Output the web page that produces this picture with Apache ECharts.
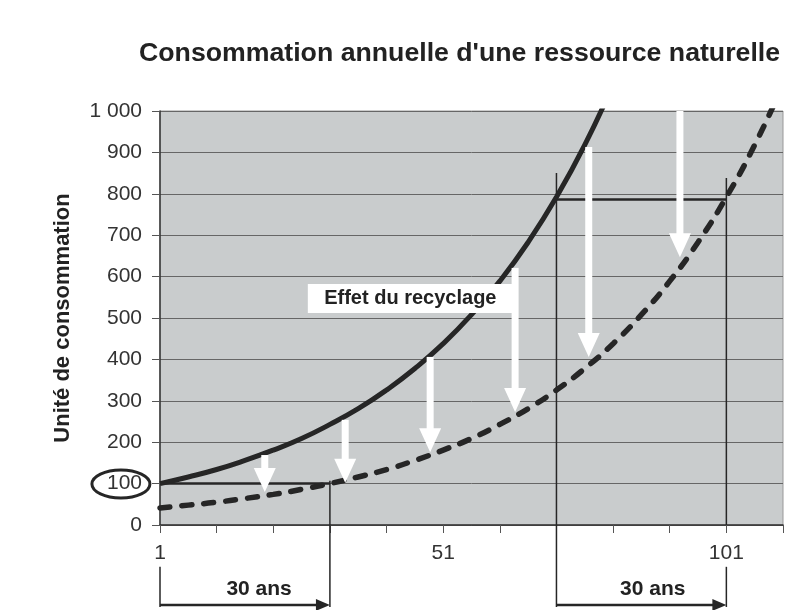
<!DOCTYPE html>
<html>
<head>
<meta charset="utf-8">
<script src="https://cdn.jsdelivr.net/npm/echarts@6/dist/echarts.min.js"></script>
<style>
html, body { margin: 0; padding: 0; background: #fff; }
#chart { width: 786px; height: 610px; }
</style>
</head>
<body>
<div id="chart"></div>
<script>
// years on the x axis, one point every 5 years
const years = [1, 6, 11, 16, 21, 26, 31, 36, 41, 46, 51, 56, 61, 66, 71, 76, 81, 86, 91, 96, 101, 106, 111];
// consumption without recycling (solid curve)
const consumption = [100, 116, 134, 156, 181, 209, 243, 281, 326, 378, 438, 508, 589, 683, 792, 918, 1064];
// consumption with recycling (dashed curve)
const recycled = [41, 48, 55, 64, 74, 86, 100, 116, 134, 156, 181, 209, 243, 281, 326, 378, 438, 508, 589, 683, 792, 918, 1064];

const yTickLabels = ['0', '100', '200', '300', '400', '500', '600', '700', '800', '900', '1 000'];
const xTickLabels = { 1: '1', 51: '51', 101: '101' };

// white "recycling effect" arrows: [year, from, to]
const recycleArrows = [
    [19.5, 169, 80],
    [33.7, 254, 102],
    [48.7, 406, 176],
    [63.7, 621, 273],
    [76.7, 913, 406],
    [92.8, 1000, 647]
];
const boxLabel = 'Effet du recyclage';
const labelBox = [[27.1, 63.3, 582, 512]];

// horizontal guides: [fromYear, toYear, value]
const hGuides = [[1, 31, 100], [71, 101, 786]];
// vertical guides: [year, top, bottom]
const vGuides = [[1, -101, -198], [31, 107, -198], [71, 850, -198], [101, 838, 0], [101, -101, -198]];
// "30 ans" spans: [fromYear, toYear, level, labelYear, labelLevel]
const spans = [[1, 31, -193, 18.5, -155], [71, 101, -193, 88, -155]];
const spanLabel = '30 ans';
const circled = [[-5.9, 99]];

const font = 'Liberation Sans, Arial, sans-serif';
const dark = '#262626';

const chart = echarts.init(document.getElementById('chart'));

function pair(xs, ys) {
    return ys.map((v, i) => [xs[i], v]);
}

chart.setOption({
    animation: false,
    title: {
        text: "Consommation annuelle d'une ressource naturelle",
        left: 134,
        top: 35,
        textStyle: { fontFamily: font, fontSize: 26.7, fontWeight: 'bold', color: '#222' }
    },
    grid: {
        show: true,
        left: 160,
        right: 3,
        top: 111,
        bottom: 85,
        backgroundColor: '#c9cccd',
        borderColor: '#999',
        borderWidth: 1
    },
    xAxis: {
        type: 'value',
        min: 1,
        max: 111,
        interval: 10,
        axisLine: { onZero: false, lineStyle: { color: '#333', width: 1.5 } },
        axisTick: { show: true, length: 8, lineStyle: { color: '#555' } },
        axisLabel: {
            margin: 18,
            fontFamily: font,
            fontSize: 21,
            color: '#333',
            formatter: v => xTickLabels[v] || ''
        },
        splitLine: { show: false }
    },
    yAxis: {
        type: 'value',
        min: 0,
        max: 1000,
        interval: 100,
        name: 'Unité de consommation',
        nameLocation: 'middle',
        nameGap: 86,
        nameTextStyle: { fontFamily: font, fontSize: 22, fontWeight: 'bold', color: '#222' },
        axisLine: { show: true, lineStyle: { color: '#333', width: 1.5 } },
        axisTick: { show: true, length: 8, lineStyle: { color: '#555' } },
        axisLabel: {
            margin: 18,
            fontFamily: font,
            fontSize: 21,
            color: '#333',
            formatter: v => yTickLabels[Math.round(v / 100)]
        },
        splitLine: { lineStyle: { color: '#666', width: 1 } }
    },
    series: [
        {
            name: 'Guides horizontaux',
            type: 'custom',
            data: hGuides,
            z: 3,
            renderItem(params, api) {
                const a = api.coord([api.value(0), api.value(2)]);
                const b = api.coord([api.value(1), api.value(2)]);
                return {
                    type: 'line',
                    shape: { x1: a[0], y1: a[1], x2: b[0], y2: b[1] },
                    style: { stroke: dark, lineWidth: 2.5 }
                };
            }
        },
        {
            name: 'Guides verticaux',
            type: 'custom',
            data: vGuides,
            z: 3,
            renderItem(params, api) {
                const a = api.coord([api.value(0), api.value(1)]);
                const b = api.coord([api.value(0), api.value(2)]);
                return {
                    type: 'line',
                    shape: { x1: a[0], y1: a[1], x2: b[0], y2: b[1] },
                    style: { stroke: dark, lineWidth: 1.5 }
                };
            }
        },
        {
            name: 'Sans recyclage',
            type: 'line',
            smooth: true,
            symbol: 'none',
            z: 4,
            lineStyle: { color: dark, width: 5 },
            data: pair(years, consumption)
        },
        {
            name: 'Avec recyclage',
            type: 'line',
            smooth: true,
            symbol: 'none',
            z: 4,
            lineStyle: { color: dark, width: 5.5, type: [10, 12], cap: 'round' },
            data: pair(years, recycled)
        },
        {
            name: 'Effet',
            type: 'custom',
            data: labelBox,
            z: 5,
            renderItem(params, api) {
                const a = api.coord([api.value(0), api.value(2)]);
                const b = api.coord([api.value(1), api.value(3)]);
                return {
                    type: 'group',
                    children: [
                        {
                            type: 'rect',
                            shape: { x: a[0], y: a[1], width: b[0] - a[0], height: b[1] - a[1] },
                            style: { fill: '#fff' }
                        },
                        {
                            type: 'text',
                            x: (a[0] + b[0]) / 2,
                            y: (a[1] + b[1]) / 2,
                            style: {
                                text: boxLabel,
                                fill: '#222',
                                fontFamily: font,
                                fontSize: 20,
                                fontWeight: 'bold',
                                align: 'center',
                                verticalAlign: 'middle'
                            }
                        }
                    ]
                };
            }
        },
        {
            name: 'Flèches',
            type: 'custom',
            data: recycleArrows,
            z: 6,
            renderItem(params, api) {
                const top = api.coord([api.value(0), api.value(1)]);
                const tip = api.coord([api.value(0), api.value(2)]);
                const headLen = 24, headHalf = 11, shaftHalf = 3.5;
                return {
                    type: 'group',
                    children: [
                        {
                            type: 'rect',
                            shape: { x: top[0] - shaftHalf, y: top[1], width: shaftHalf * 2, height: tip[1] - headLen - top[1] + 1 },
                            style: { fill: '#fff' }
                        },
                        {
                            type: 'polygon',
                            shape: { points: [[tip[0] - headHalf, tip[1] - headLen], [tip[0] + headHalf, tip[1] - headLen], [tip[0], tip[1]]] },
                            style: { fill: '#fff' }
                        }
                    ]
                };
            }
        },
        {
            name: 'Cercle',
            type: 'custom',
            data: circled,
            z: 6,
            renderItem(params, api) {
                const c = api.coord([api.value(0), api.value(1)]);
                return {
                    type: 'ellipse',
                    shape: { cx: c[0], cy: c[1], rx: 29, ry: 14 },
                    style: { fill: 'none', stroke: dark, lineWidth: 3 }
                };
            }
        },
        {
            name: '30 ans',
            type: 'custom',
            data: spans,
            z: 6,
            renderItem(params, api) {
                const a = api.coord([api.value(0), api.value(2)]);
                const b = api.coord([api.value(1), api.value(2)]);
                const t = api.coord([api.value(3), api.value(4)]);
                return {
                    type: 'group',
                    children: [
                        {
                            type: 'line',
                            shape: { x1: a[0], y1: a[1], x2: b[0] - 12, y2: b[1] },
                            style: { stroke: dark, lineWidth: 2.5 }
                        },
                        {
                            type: 'polygon',
                            shape: { points: [[b[0] - 14, b[1] - 6], [b[0], b[1]], [b[0] - 14, b[1] + 6]] },
                            style: { fill: dark }
                        },
                        {
                            type: 'text',
                            x: t[0],
                            y: t[1],
                            style: {
                                text: spanLabel,
                                fill: '#222',
                                fontFamily: font,
                                fontSize: 21,
                                fontWeight: 'bold',
                                align: 'center',
                                verticalAlign: 'middle'
                            }
                        }
                    ]
                };
            }
        }
    ]
});
</script>
</body>
</html>
